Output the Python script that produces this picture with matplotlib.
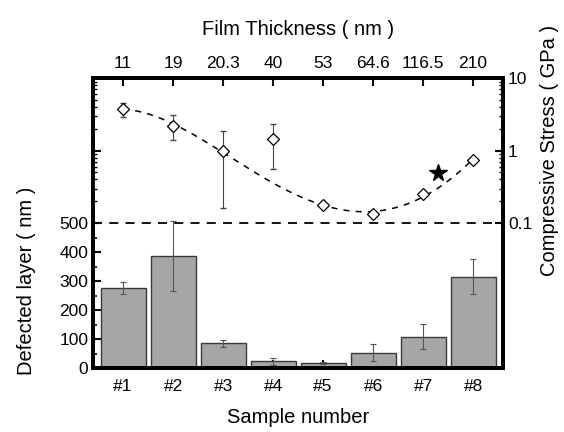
import numpy as np
import matplotlib
matplotlib.use('Agg')
import matplotlib.pyplot as plt
from matplotlib.ticker import FixedLocator, NullFormatter

plt.rcParams['font.family'] = ['Liberation Sans', 'DejaVu Sans']

samples = ['#1', '#2', '#3', '#4', '#5', '#6', '#7', '#8']
thickness = ['11', '19', '20.3', '40', '53', '64.6', '116.5', '210']

# defected layer (nm)
defect = [277, 387, 85, 23, 17, 53, 108, 315]
defect_err = [20, 122, 12, 12, 3, 30, 43, 61]

# compressive stress (GPa)
stress = [3.8, 2.2, 1.0, 1.45, 0.18, 0.132, 0.25, 0.75]
stress_lo = [2.96, 1.4, 0.164, 0.56, 0.18, 0.132, 0.25, 0.75]
stress_hi = [4.5, 3.1, 1.85, 2.36, 0.18, 0.132, 0.25, 0.75]
err_style = ['-', '--', '-', '--', '-', '-', '-', '-']

star_x = 7.3
star_y = 0.49

x = np.arange(1, 9)

fig = plt.figure(figsize=(5.64, 4.32), dpi=100)
ax = fig.add_axes([0.165, 0.148, 0.727, 0.671])

ax.bar(x, defect, width=0.9, color='#a6a6a6', edgecolor='#3a3a3a', linewidth=1.0, zorder=2)
ax.errorbar(x, defect, yerr=defect_err, fmt='none', ecolor='#555555', elinewidth=0.8,
            capsize=2, capthick=0.8, zorder=3)
ax.axhline(500, color='black', linestyle=(0, (5, 4)), linewidth=1.3, zorder=1)

ax.set_xlim(0.4, 8.6)
ax.set_ylim(0, 1000)
ax.set_yticks([0, 100, 200, 300, 400, 500])
ax.yaxis.set_minor_locator(FixedLocator([50, 150, 250, 350, 450]))
ax.set_xticks(x)
ax.set_xticklabels(samples)
ax.set_xlabel('Sample number', fontsize=14.5, labelpad=10)
ax.set_ylabel('Defected layer ( nm )', fontsize=14.5)
ax.yaxis.set_label_coords(-0.14, 0.30)
ax.tick_params(axis='both', which='major', direction='in', labelsize=12.5, length=6, width=1.5)
ax.tick_params(axis='x', pad=8)
ax.tick_params(axis='y', which='minor', direction='in', length=3, width=1.2)
ax.tick_params(axis='y', right=True, which='both')
for s in ax.spines.values():
    s.set_linewidth(2.8)

# top axis: film thickness
axt = ax.secondary_xaxis('top')
axt.set_xticks(x)
axt.set_xticklabels(thickness)
axt.tick_params(direction='in', labelsize=12.5, length=6, width=1.5, pad=5)
axt.set_xlabel('Film Thickness ( nm )', fontsize=14.5, labelpad=15)

# right axis: stress (log)
ax2 = ax.twinx()
ax2.set_yscale('log')
ax2.set_ylim(0.001, 10)
ax2.yaxis.set_major_locator(FixedLocator([0.1, 1, 10]))
ax2.yaxis.set_minor_locator(FixedLocator([m * d for d in (0.1, 1) for m in range(2, 10)]))
ax2.yaxis.set_minor_formatter(NullFormatter())
ax2.set_yticklabels(['0.1', '1', '10'])
ax2.tick_params(axis='y', which='major', direction='in', labelsize=12.5, length=6, width=1.5,
                left=True)
ax2.tick_params(axis='y', which='minor', direction='in', length=3, width=1.0, left=True)
ax2.set_ylabel('Compressive Stress ( GPa )', fontsize=14.5)
ax2.yaxis.set_label_coords(1.09, 0.75)
for s in ax2.spines.values():
    s.set_linewidth(2.8)

# smooth trend (fit in log space, sample #4 excluded)
keep = [0, 1, 2, 4, 5, 6, 7]
coef = np.polyfit(x[keep], np.log10(np.array(stress)[keep]), 4)
xs = np.linspace(1, 8, 200)
ax2.plot(xs, 10 ** np.polyval(coef, xs), color='black', linestyle=(0, (4, 4)),
         linewidth=1.1, zorder=2)

for i in range(len(x)):
    if stress_hi[i] > stress_lo[i]:
        ax2.errorbar(x[i], stress[i],
                     yerr=[[stress[i] - stress_lo[i]], [stress_hi[i] - stress[i]]],
                     fmt='none', ecolor='#444444', elinewidth=0.8, capsize=2,
                     linestyle=err_style[i], zorder=3)
ax2.plot(x, stress, linestyle='none', marker='D', markersize=6, markerfacecolor='white',
         markeredgecolor='black', markeredgewidth=0.9, zorder=4)
ax2.plot([star_x], [star_y], marker='*', markersize=13, color='black', linestyle='none', zorder=4)

fig.savefig('out.png', dpi=100)
